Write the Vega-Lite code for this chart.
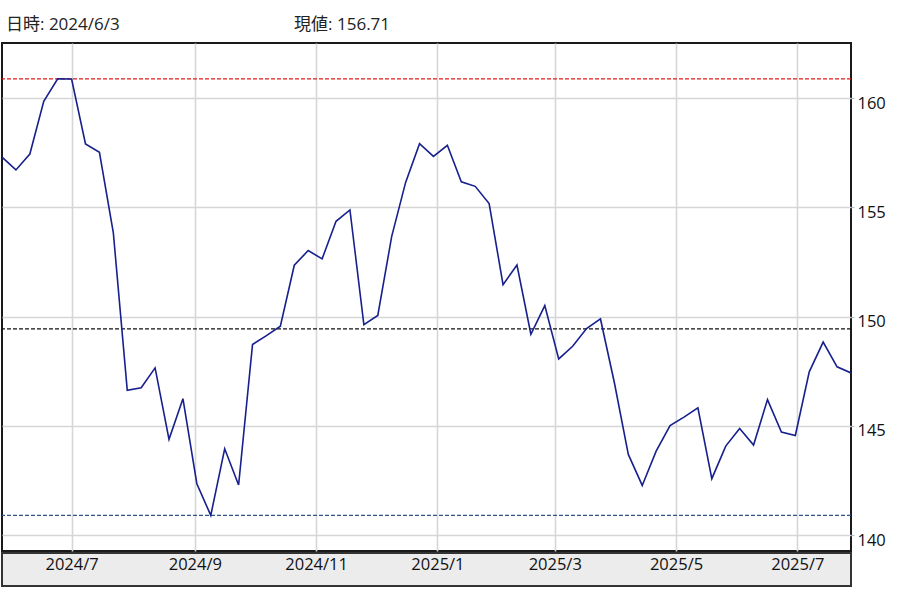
{
  "$schema": "https://vega.github.io/schema/vega-lite/v6.json",
  "padding": {"left": 0, "top": 16, "right": 20, "bottom": 13},
  "background": "white",
  "title": {
    "text": "日時: 2024/6/3\u2003\u2003\u2003\u2003\u2003\u2003\u2003\u2003\u2003\u2003\u00a0現値: 156.71",
    "anchor": "start",
    "frame": "group",
    "font": "Open Sans, Noto Sans CJK JP",
    "fontSize": 17,
    "fontWeight": "normal",
    "color": "#222222",
    "offset": 8,
    "dx": 4
  },
  "datasets": {
    "rate": [
      {"date": "2024-05-27", "value": 157.30},
      {"date": "2024-06-03", "value": 156.71},
      {"date": "2024-06-10", "value": 157.44},
      {"date": "2024-06-17", "value": 159.85},
      {"date": "2024-06-24", "value": 160.88},
      {"date": "2024-07-01", "value": 160.87},
      {"date": "2024-07-08", "value": 157.90},
      {"date": "2024-07-15", "value": 157.52},
      {"date": "2024-07-22", "value": 153.83},
      {"date": "2024-07-29", "value": 146.62},
      {"date": "2024-08-05", "value": 146.74},
      {"date": "2024-08-12", "value": 147.65},
      {"date": "2024-08-19", "value": 144.38},
      {"date": "2024-08-26", "value": 146.24},
      {"date": "2024-09-02", "value": 142.35},
      {"date": "2024-09-09", "value": 140.90},
      {"date": "2024-09-16", "value": 143.95},
      {"date": "2024-09-23", "value": 142.29},
      {"date": "2024-09-30", "value": 148.72},
      {"date": "2024-10-07", "value": 149.13},
      {"date": "2024-10-14", "value": 149.56},
      {"date": "2024-10-21", "value": 152.35},
      {"date": "2024-10-28", "value": 153.02},
      {"date": "2024-11-04", "value": 152.64},
      {"date": "2024-11-11", "value": 154.36},
      {"date": "2024-11-18", "value": 154.88},
      {"date": "2024-11-25", "value": 149.63},
      {"date": "2024-12-02", "value": 150.05},
      {"date": "2024-12-09", "value": 153.67},
      {"date": "2024-12-16", "value": 156.14},
      {"date": "2024-12-23", "value": 157.91},
      {"date": "2024-12-30", "value": 157.33},
      {"date": "2025-01-06", "value": 157.84},
      {"date": "2025-01-13", "value": 156.17},
      {"date": "2025-01-20", "value": 155.96},
      {"date": "2025-01-27", "value": 155.17},
      {"date": "2025-02-03", "value": 151.46},
      {"date": "2025-02-10", "value": 152.36},
      {"date": "2025-02-17", "value": 149.19},
      {"date": "2025-02-24", "value": 150.50},
      {"date": "2025-03-03", "value": 148.06},
      {"date": "2025-03-10", "value": 148.64},
      {"date": "2025-03-17", "value": 149.45},
      {"date": "2025-03-24", "value": 149.89},
      {"date": "2025-03-31", "value": 146.97},
      {"date": "2025-04-07", "value": 143.69},
      {"date": "2025-04-14", "value": 142.27},
      {"date": "2025-04-21", "value": 143.84},
      {"date": "2025-04-28", "value": 145.01},
      {"date": "2025-05-05", "value": 145.40},
      {"date": "2025-05-12", "value": 145.82},
      {"date": "2025-05-19", "value": 142.58},
      {"date": "2025-05-26", "value": 144.07},
      {"date": "2025-06-02", "value": 144.88},
      {"date": "2025-06-09", "value": 144.12},
      {"date": "2025-06-16", "value": 146.20},
      {"date": "2025-06-23", "value": 144.71},
      {"date": "2025-06-30", "value": 144.56},
      {"date": "2025-07-07", "value": 147.47},
      {"date": "2025-07-14", "value": 148.83},
      {"date": "2025-07-21", "value": 147.70},
      {"date": "2025-07-28", "value": 147.42}
    ],
    "levels": [
      {"level": "high", "value": 160.88},
      {"level": "mean", "value": 149.44},
      {"level": "low", "value": 140.90}
    ]
  },
  "spacing": 0,
  "vconcat": [
    {
      "width": 849,
      "height": 508,
      "view": {"stroke": "#1a1a1a", "strokeWidth": 2},
      "layer": [
        {
          "data": {"name": "levels"},
          "mark": {"type": "rule", "strokeDash": [4, 2], "strokeWidth": 1.3},
          "encoding": {
            "y": {"field": "value", "type": "quantitative"},
            "color": {
              "field": "level",
              "type": "nominal",
              "scale": {"domain": ["high", "mean", "low"], "range": ["#e01c1c", "#111111", "#33558a"]},
              "legend": null
            }
          }
        },
        {
          "data": {"name": "rate"},
          "mark": {"type": "line", "color": "#17208c", "strokeWidth": 1.6, "clip": true},
          "encoding": {
            "x": {
              "field": "date",
              "type": "temporal",
              "scale": {
                "type": "utc",
                "domain": [
                  {"year": 2024, "month": 5, "date": 27, "utc": true},
                  {"year": 2025, "month": 7, "date": 28, "utc": true}
                ],
                "nice": false
              },
              "axis": {
                "title": null,
                "labels": false,
                "ticks": false,
                "domain": false,
                "grid": true,
                "gridColor": "#d6d6d6",
                "gridWidth": 1.6,
                "values": [
                  {"year": 2024, "month": 7, "date": 1, "utc": true},
                  {"year": 2024, "month": 9, "date": 1, "utc": true},
                  {"year": 2024, "month": 11, "date": 1, "utc": true},
                  {"year": 2025, "month": 1, "date": 1, "utc": true},
                  {"year": 2025, "month": 3, "date": 1, "utc": true},
                  {"year": 2025, "month": 5, "date": 1, "utc": true},
                  {"year": 2025, "month": 7, "date": 1, "utc": true}
                ]
              }
            },
            "y": {
              "field": "value",
              "type": "quantitative",
              "scale": {"domain": [139.27, 162.52], "nice": false, "zero": false},
              "axis": {
                "orient": "right",
                "title": null,
                "values": [140, 145, 150, 155, 160],
                "domain": false,
                "grid": true,
                "gridColor": "#d6d6d6",
                "gridWidth": 1.6,
                "tickSize": 3,
                "tickColor": "#a9c3df",
                "labelFont": "Open Sans",
                "labelFontSize": 16.5,
                "labelColor": "#111111",
                "labelPadding": 3,
                "labelOffset": 5
              }
            }
          }
        }
      ]
    },
    {
      "width": 849,
      "height": 33,
      "view": {"fill": "#ececec", "stroke": "#333333", "strokeWidth": 2},
      "data": {"name": "rate"},
      "mark": {"type": "point", "opacity": 0, "size": 0, "strokeWidth": 0, "clip": true},
      "encoding": {
        "x": {
          "field": "date",
          "type": "temporal",
          "scale": {
            "type": "utc",
            "domain": [
              {"year": 2024, "month": 5, "date": 27, "utc": true},
              {"year": 2025, "month": 7, "date": 28, "utc": true}
            ],
            "nice": false
          },
          "axis": {
            "title": null,
            "grid": false,
            "domain": false,
            "ticks": false,
            "tickSize": 0,
            "format": "%Y/%-m",
            "labelBaseline": "middle",
            "labelPadding": -22,
            "labelFont": "Open Sans",
            "labelFontSize": 16.5,
            "labelColor": "#111111",
            "labelFlush": false,
            "values": [
              {"year": 2024, "month": 7, "date": 1, "utc": true},
              {"year": 2024, "month": 9, "date": 1, "utc": true},
              {"year": 2024, "month": 11, "date": 1, "utc": true},
              {"year": 2025, "month": 1, "date": 1, "utc": true},
              {"year": 2025, "month": 3, "date": 1, "utc": true},
              {"year": 2025, "month": 5, "date": 1, "utc": true},
              {"year": 2025, "month": 7, "date": 1, "utc": true}
            ]
          }
        }
      }
    }
  ]
}
